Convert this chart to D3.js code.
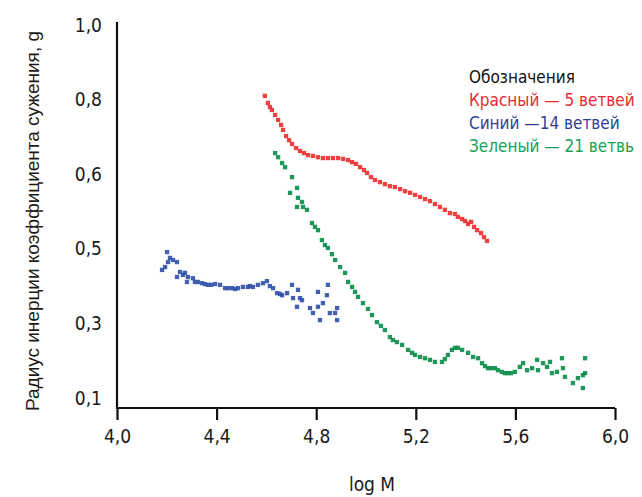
<!DOCTYPE html>
<html>
<head>
<meta charset="utf-8">
<script src="https://cdn.jsdelivr.net/npm/d3@7"></script>
<style>
  body { margin: 0; background: #fff; }
  svg text { font-family: "Liberation Sans Narrow", "DejaVu Sans Condensed", sans-serif; }
</style>
</head>
<body>
<div id="graph"></div>
<script>
// значения
const xTicks = [4.0, 4.4, 4.8, 5.2, 5.6, 6.0]
const yTicks = [1.0, 0.82, 0.64, 0.46, 0.28, 0.1]
const yTickLabels = ['1,0', '0,8', '0,6', '0,5', '0,3', '0,1']

const redX = [4.594,4.606,4.614,4.622,4.635,4.647,4.659,4.667,4.679,4.691,4.703,4.719,4.735,4.751,4.767,4.787,4.807,4.827,4.847,4.867,4.888,4.908,4.928,4.944,4.960,4.976,4.992,5.004,5.020,5.036,5.056,5.076,5.096,5.116,5.137,5.157,5.177,5.197,5.217,5.237,5.257,5.277,5.297,5.317,5.337,5.357,5.369,5.386,5.398,5.410,5.422,5.434,5.446,5.462,5.474,5.486]
const redY = [0.829,0.812,0.802,0.795,0.783,0.771,0.759,0.747,0.732,0.722,0.713,0.703,0.696,0.691,0.686,0.684,0.681,0.679,0.679,0.679,0.679,0.677,0.674,0.669,0.665,0.657,0.650,0.643,0.633,0.626,0.621,0.616,0.611,0.609,0.604,0.599,0.595,0.590,0.585,0.580,0.575,0.568,0.561,0.554,0.546,0.544,0.537,0.532,0.527,0.520,0.525,0.513,0.505,0.498,0.488,0.479]

const blueX = [4.181,4.193,4.201,4.205,4.213,4.225,4.241,4.241,4.253,4.265,4.273,4.281,4.285,4.305,4.313,4.325,4.341,4.353,4.365,4.378,4.394,4.414,4.434,4.446,4.462,4.474,4.486,4.506,4.526,4.534,4.546,4.566,4.586,4.602,4.614,4.627,4.643,4.655,4.663,4.683,4.703,4.707,4.723,4.727,4.735,4.743,4.775,4.787,4.807,4.807,4.815,4.827,4.843,4.847,4.855,4.876,4.884,4.884]
const blueY = [0.409,0.416,0.452,0.428,0.438,0.433,0.428,0.392,0.404,0.397,0.402,0.380,0.392,0.389,0.380,0.380,0.377,0.375,0.373,0.373,0.375,0.373,0.365,0.365,0.365,0.363,0.365,0.368,0.368,0.370,0.368,0.373,0.377,0.382,0.370,0.365,0.353,0.351,0.348,0.353,0.373,0.341,0.320,0.361,0.341,0.336,0.317,0.305,0.320,0.356,0.288,0.329,0.348,0.373,0.305,0.305,0.317,0.288]

const greenX = [4.635,4.647,4.663,4.675,4.695,4.703,4.723,4.723,4.727,4.743,4.747,4.763,4.783,4.795,4.807,4.823,4.835,4.847,4.863,4.876,4.896,4.916,4.928,4.944,4.956,4.968,4.988,5.008,5.024,5.044,5.060,5.076,5.096,5.108,5.124,5.145,5.169,5.185,5.197,5.217,5.237,5.257,5.277,5.305,5.317,5.329,5.345,5.357,5.369,5.386,5.410,5.430,5.450,5.466,5.478,5.490,5.502,5.518,5.530,5.546,5.558,5.570,5.582,5.598,5.618,5.631,5.647,5.667,5.687,5.691,5.711,5.727,5.739,5.747,5.767,5.787,5.791,5.799,5.831,5.851,5.871,5.871,5.880,5.880]
const greenY = [0.691,0.681,0.667,0.657,0.595,0.633,0.607,0.561,0.583,0.573,0.561,0.554,0.522,0.513,0.505,0.481,0.469,0.462,0.447,0.433,0.416,0.402,0.380,0.368,0.356,0.344,0.329,0.315,0.300,0.283,0.274,0.264,0.247,0.240,0.235,0.228,0.216,0.209,0.204,0.199,0.196,0.192,0.187,0.187,0.194,0.204,0.216,0.221,0.221,0.216,0.209,0.199,0.196,0.184,0.177,0.172,0.172,0.172,0.167,0.163,0.160,0.160,0.160,0.163,0.175,0.184,0.167,0.172,0.192,0.167,0.184,0.175,0.187,0.160,0.163,0.196,0.172,0.151,0.136,0.148,0.155,0.124,0.196,0.160]

const series = [
  {name: 'Красный — 5 ветвей', x: redX, y: redY, color: '#ee2a2a', text: '#ec2a30'},
  {name: 'Синий —14 ветвей', x: blueX, y: blueY, color: '#2f4fa8', text: '#303f96'},
  {name: 'Зеленый — 21 ветвь', x: greenX, y: greenY, color: '#078c48', text: '#16a05a'}
]

const width = 642
const height = 497
const svg = d3.select('#graph').append('svg')
  .attr('width', width)
  .attr('height', height)

const x = d3.scaleLinear().domain([4.0, 6.0]).range([117, 615])
const y = d3.scaleLinear().domain([0.1, 1.0]).range([398, 25])
const axisY = 408

// ось X
const gx = svg.append('g')
  .attr('transform', `translate(0,${axisY})`)
  .call(d3.axisBottom(x).tickValues(xTicks).tickSize(12).tickPadding(10)
    .tickFormat(d => d3.format('.1f')(d).replace('.', ',')))
gx.select('.domain').attr('stroke', '#111').attr('stroke-width', 2.2)
  .attr('d', `M${x(4.0)},0H${x(6.0)}`)
gx.selectAll('.tick line').attr('stroke', '#111').attr('stroke-width', 2.2)
gx.selectAll('.tick text').attr('font-size', 19).attr('fill', '#1a1a1a')
  .attr('font-family', '"Liberation Sans Narrow", "DejaVu Sans Condensed", sans-serif')

// ось Y
const gy = svg.append('g')
  .attr('transform', `translate(${x(4.0)},0)`)
  .call(d3.axisLeft(y).tickValues(yTicks).tickSize(0).tickPadding(15)
    .tickFormat((d, i) => yTickLabels[i]))
gy.select('.domain').attr('stroke', '#111').attr('stroke-width', 2.2)
  .attr('d', `M0,22V${axisY + 1}`)
gy.selectAll('.tick text').attr('font-size', 19).attr('fill', '#1a1a1a')
  .attr('font-family', '"Liberation Sans Narrow", "DejaVu Sans Condensed", sans-serif')

// точки
const s = 4.3
series.forEach(ser => {
  svg.append('g').selectAll('rect')
    .data(ser.x.map((d, i) => [d, ser.y[i]]))
    .join('rect')
    .attr('x', d => x(d[0]) - s / 2)
    .attr('y', d => y(d[1]) - s / 2)
    .attr('width', s)
    .attr('height', s)
    .attr('fill', ser.color)
    .attr('opacity', 0.9)
})

// подписи осей
svg.append('text')
  .attr('transform', `translate(39,${(30 + 412) / 2}) rotate(-90)`)
  .attr('text-anchor', 'middle')
  .style('font-family', '"Liberation Sans", Arial, sans-serif')
  .attr('font-size', 18)
  .attr('textLength', 380)
  .attr('lengthAdjust', 'spacingAndGlyphs')
  .attr('fill', '#1a1a1a')
  .text('Радиус инерции коэффициента сужения, g')

svg.append('text')
  .attr('x', 372)
  .attr('y', 491)
  .attr('text-anchor', 'middle')
  .attr('font-size', 19)
  .attr('fill', '#1a1a1a')
  .text('log M')

// легенда
const legend = svg.append('g').attr('transform', 'translate(469,83)')
legend.append('text').attr('font-size', 17).attr('fill', '#111').text('Обозначения')
legend.selectAll('.item')
  .data(series)
  .join('text')
  .attr('class', 'item')
  .attr('y', (d, i) => 23 * (i + 1))
  .attr('font-size', 17)
  .attr('fill', d => d.text)
  .text(d => d.name)
</script>
</body>
</html>
